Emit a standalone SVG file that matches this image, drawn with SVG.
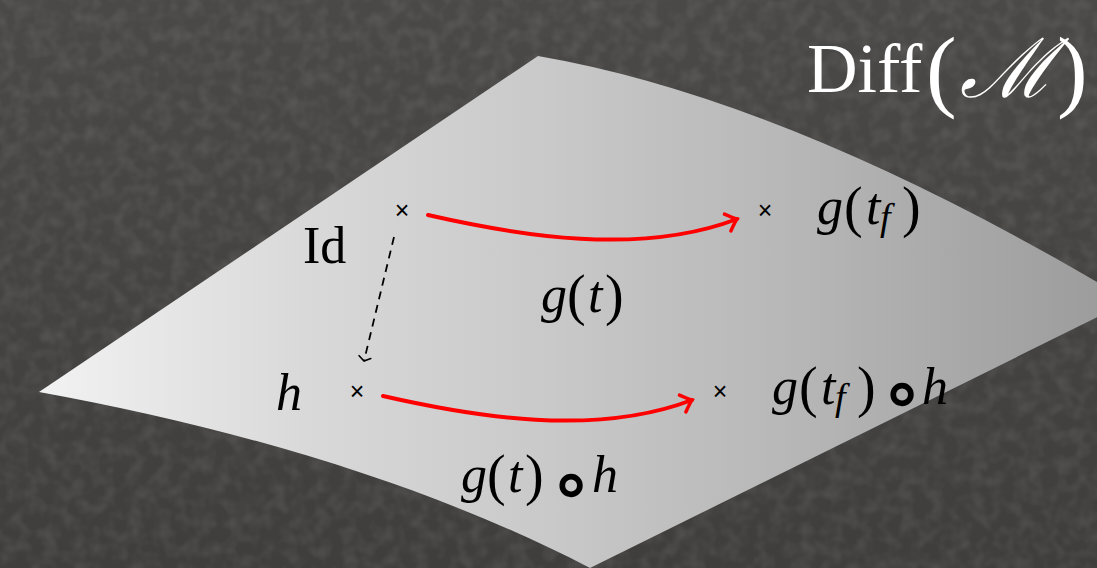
<svg xmlns="http://www.w3.org/2000/svg" width="1097" height="568" viewBox="0 0 1097 568">
  <style>
    .lbl { font-family: "Liberation Serif", "Times New Roman", serif; font-size: 52px; fill: #000; }
    .it { font-style: italic; }
    .par { font-size: 56px; }
    .sub { font-size: 38px; font-style: italic; }
    .op { font-family: "DejaVu Serif", "DejaVu Sans", serif; font-size: 84px; fill: #000; text-anchor: middle; }
    .cross { font-family: "Liberation Sans", Arial, sans-serif; font-size: 25px; fill: #000; text-anchor: middle; }
    .flow { fill: none; stroke: #ff0000; stroke-width: 4; stroke-linecap: round; }
    .dash { fill: none; stroke: #000; stroke-width: 1.8; stroke-dasharray: 8 6; }
    .title { font-family: "Liberation Serif", "Times New Roman", serif; fill: #ffffff; }
  </style>
  <defs>
    <linearGradient id="bg" x1="0" y1="0" x2="0" y2="1">
      <stop offset="0" stop-color="#4b4947"/>
      <stop offset="1" stop-color="#3f3e3c"/>
    </linearGradient>
    <linearGradient id="sheet" gradientUnits="userSpaceOnUse" x1="39" y1="0" x2="1097" y2="0">
      <stop offset="0" stop-color="#f2f2f2"/>
      <stop offset="0.25" stop-color="#d9d9d9"/>
      <stop offset="0.48" stop-color="#c9c9c9"/>
      <stop offset="0.72" stop-color="#b6b6b6"/>
      <stop offset="1" stop-color="#9d9d9d"/>
    </linearGradient>
    <filter id="grain" x="0" y="0" width="100%" height="100%">
      <feTurbulence type="fractalNoise" baseFrequency="0.07" numOctaves="2" seed="7" result="n"/>
      <feColorMatrix in="n" type="matrix" values="0 0 0 0 0.5  0 0 0 0 0.48  0 0 0 0 0.46  0 0 0 1.2 -0.45"/>
    </filter>
    <marker id="redhead" markerUnits="userSpaceOnUse" markerWidth="30" markerHeight="30" refX="0" refY="0" viewBox="-15 -15 30 30" orient="auto" overflow="visible">
      <path d="M-10,-9 Q-3,-2 0,0 Q-3,2 -10,9" fill="none" stroke="#ff0000" stroke-width="3.5" stroke-linecap="round"/>
    </marker>
    <marker id="blackhead" markerUnits="userSpaceOnUse" markerWidth="20" markerHeight="20" refX="0" refY="0" viewBox="-10 -10 20 20" orient="auto" overflow="visible">
      <path d="M-4,-6 Q-1,-1.5 0,0 Q-1,1.5 -4,6" fill="none" stroke="#000" stroke-width="1.6" stroke-linecap="round"/>
    </marker>
  </defs>

  <rect x="0" y="0" width="1097" height="568" fill="url(#bg)"/>
  <rect x="0" y="0" width="1097" height="568" filter="url(#grain)" opacity="0.22"/>

  <path id="manifold" d="M39,392 L538,56 Q782,98 1097,282 L1130,301 L590,568 C440,490 250,430 39,392 Z" fill="url(#sheet)"/>

  <g id="title">
    <text class="title" x="807" y="92" style="font-size:70px">Diff</text>
    <text class="title" x="926" y="100" style="font-size:92px">(</text>
    <text class="title" x="960" y="97" style="font-size:82px;font-style:italic">ℳ</text>
    <text class="title" x="1057" y="100" style="font-size:92px">)</text>
  </g>

  <g id="connectors">
    <path class="flow" d="M428,215 C520,236 640,256 737,219" marker-end="url(#redhead)"/>
    <path class="flow" d="M383,396 C475,417 595,437 692,400" marker-end="url(#redhead)"/>
    <path class="dash" d="M394,237 L364,361" marker-end="url(#blackhead)"/>
    <text id="label-gt" class="lbl" y="312"><tspan class="it" x="541">g</tspan><tspan class="par" x="567" y="314">(</tspan><tspan class="it" x="588" y="312">t</tspan><tspan class="par" x="605" y="314">)</tspan></text>
    <g id="label-gth">
      <text class="lbl" y="492"><tspan class="it" x="461">g</tspan><tspan class="par" x="487" y="494">(</tspan><tspan class="it" x="508" y="492">t</tspan><tspan class="par" x="525" y="494">)</tspan><tspan class="it" x="592" y="492">h</tspan></text>
      <text class="op" x="571" y="512">∘</text>
    </g>
  </g>

  <g id="node-id">
    <text class="cross" x="402" y="219">×</text>
    <text class="lbl" x="303" y="263">Id</text>
  </g>

  <g id="node-gtf">
    <text class="cross" x="765" y="219">×</text>
    <text class="lbl" y="224"><tspan class="it" x="817">g</tspan><tspan class="par" x="844" y="226">(</tspan><tspan class="it" x="866" y="224">t</tspan><tspan class="sub" x="880" y="230">f</tspan><tspan class="par" x="902" y="226">)</tspan></text>
  </g>

  <g id="node-h">
    <text class="cross" x="357" y="400">×</text>
    <text class="lbl it" x="276" y="410">h</text>
  </g>

  <g id="node-gtfh">
    <text class="cross" x="720" y="400">×</text>
    <text class="lbl" y="404"><tspan class="it" x="772">g</tspan><tspan class="par" x="799" y="406">(</tspan><tspan class="it" x="821" y="404">t</tspan><tspan class="sub" x="835" y="410">f</tspan><tspan class="par" x="857" y="406">)</tspan><tspan class="it" x="922" y="404">h</tspan></text>
    <text class="op" x="902" y="421">∘</text>
  </g>
</svg>
